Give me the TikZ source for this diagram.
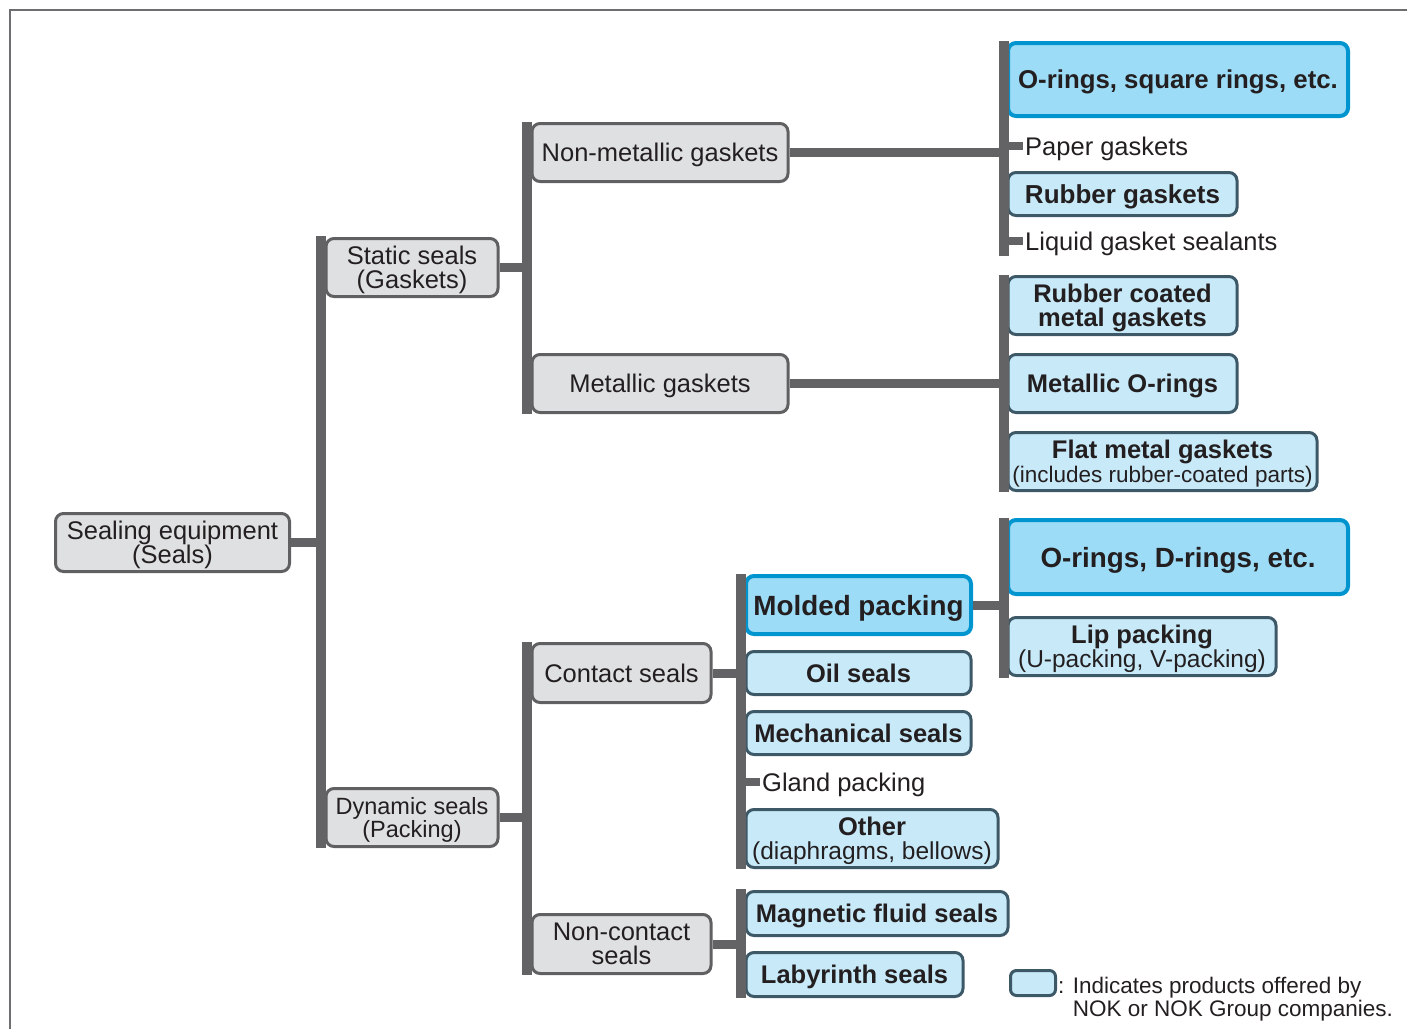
\documentclass[tikz,border=0pt]{standalone}
\usepackage{fontspec}
\setmainfont{Liberation Sans}

\definecolor{bargray}{HTML}{636365}
\definecolor{boxgray}{HTML}{DFE0E1}
\definecolor{edgegray}{HTML}{606062}
\definecolor{lightblue}{HTML}{C7E9F8}
\definecolor{edgeslate}{HTML}{3D5867}
\definecolor{hiblue}{HTML}{9DDCF6}
\definecolor{edgeblue}{HTML}{0095CF}
\definecolor{ink}{HTML}{231F20}
\definecolor{framegray}{HTML}{6E6E70}

\newcommand{\mainsize}{\fontsize{25.5}{24}\selectfont}
\newcommand{\subsize}{\fontsize{24.5}{24}\selectfont}

\tikzset{
    bar/.style={draw=bargray, line width=10pt},
    link/.style={draw=bargray, line width=9pt},
    tick/.style={draw=bargray, line width=8pt},
    gen/.style={draw=edgegray, fill=boxgray, line width=3pt, rounded corners=8pt,
        inner sep=0pt, align=center, text=ink, text depth=0pt, font=\mainsize},
    prod/.style={gen, draw=edgeslate, fill=lightblue, font=\mainsize\bfseries},
    nok/.style={prod, draw=edgeblue, fill=hiblue, line width=4pt,
        font=\fontsize{27.8}{24}\selectfont\bfseries},
    leaf/.style={inner sep=0pt, anchor=west, text=ink, text depth=0pt, font=\mainsize},
}

\begin{document}
\begin{tikzpicture}[x=1pt,y=-1pt]
        \useasboundingbox (0,0) rectangle (1407,1029);
        %% Frame
        \draw[framegray, line width=2pt] (10,1029) -- (10,10) -- (1407,10);

        %% Root and first level
        \node[gen, minimum width=234pt, minimum height=58pt] (root) at (172.5,542.5)
            {Sealing equipment\\(Seals)};
        \node[gen, anchor=west, minimum width=172pt, minimum height=58pt] (static) at (324.5,267.5)
            {Static seals\\(Gaskets)};
        \node[gen, anchor=west, minimum width=172pt, minimum height=58pt,
            font=\fontsize{23.5}{23}\selectfont] (dynamic) at (324.5,817.5)
            {Dynamic seals\\(Packing)};

        %% Gaskets
        \node[gen, anchor=west, minimum width=256pt, minimum height=58pt] (nonmetal) at (530.5,152.5)
            {Non-metallic gaskets};
        \node[gen, anchor=west, minimum width=256pt, minimum height=58pt] (metal) at (530.5,383.5)
            {Metallic gaskets};
        \node[nok, anchor=west, minimum width=340pt, minimum height=73pt,
            font=\fontsize{25.8}{24}\selectfont\bfseries] (oring) at (1006,79.5)
            {O-rings, square rings, etc.};
        \node[leaf] (paper) at (1025,146) {Paper gaskets};
        \node[prod, anchor=west, minimum width=229pt, minimum height=43pt,
            font=\fontsize{26}{24}\selectfont\bfseries] (rubber) at (1006.5,194)
            {Rubber gaskets};
        \node[leaf] (liquid) at (1025,241) {Liquid gasket sealants};
        \node[prod, anchor=west, minimum width=229pt, minimum height=58pt] (rubcoat) at (1006.5,305.5)
            {Rubber coated\\metal gaskets};
        \node[prod, anchor=west, minimum width=229pt, minimum height=58pt] (metoring) at (1006.5,383.5)
            {Metallic O-rings};
        \node[prod, anchor=west, minimum width=309pt, minimum height=58pt] (flat) at (1006.5,461.5)
            {Flat metal gaskets\\{\fontsize{22.5}{24}\selectfont\mdseries(includes rubber-coated parts)}};

        %% Packing
        \node[gen, anchor=west, minimum width=179pt, minimum height=59pt] (contact) at (530.5,673)
            {Contact seals};
        \node[gen, anchor=west, minimum width=179pt, minimum height=59pt] (noncontact) at (530.5,944)
            {Non-contact\\seals};
        \node[nok, anchor=west, minimum width=225pt, minimum height=58pt] (molded) at (744,605)
            {Molded packing};
        \node[prod, anchor=west, minimum width=225pt, minimum height=43pt] (oil) at (744.5,673)
            {Oil seals};
        \node[prod, anchor=west, minimum width=225pt, minimum height=43pt] (mech) at (744.5,733)
            {Mechanical seals};
        \node[leaf] (gland) at (762,782) {Gland packing};
        \node[prod, anchor=west, minimum width=252pt, minimum height=58pt] (other) at (744.5,838.5)
            {Other\\{\subsize\mdseries(diaphragms, bellows)}};
        \node[prod, anchor=west, minimum width=262pt, minimum height=44pt] (magnetic) at (744.5,913.5)
            {Magnetic fluid seals};
        \node[prod, anchor=west, minimum width=217pt, minimum height=44pt] (labyrinth) at (744.5,974.5)
            {Labyrinth seals};
        \node[nok, anchor=west, minimum width=340pt, minimum height=74pt] (dring) at (1006,557)
            {O-rings, D-rings, etc.};
        \node[prod, anchor=west, minimum width=268pt, minimum height=58pt] (lip) at (1006.5,646.5)
            {Lip packing\\{\subsize\mdseries(U-packing, V-packing)}};

        %% Bars
        \coordinate (A1) at (321,236);    \coordinate (A2) at (321,848);
        \coordinate (B1) at (527,122);    \coordinate (B2) at (527,414);
        \coordinate (C1) at (1003.5,41);  \coordinate (C2) at (1003.5,256);
        \coordinate (D1) at (1003.5,275); \coordinate (D2) at (1003.5,492);
        \coordinate (E1) at (527,642);    \coordinate (E2) at (527,975);
        \coordinate (F1) at (741,574);    \coordinate (F2) at (741,869);
        \coordinate (G1) at (741,889);    \coordinate (G2) at (741,998);
        \coordinate (H1) at (1003.5,518); \coordinate (H2) at (1003.5,678);
        \foreach \b in {A,B,C,D,E,F,G,H}
            \draw[bar] (\b1) -- (\b2);

        %% Links
        \draw[link] (root.east) -- (root.east -| A1);
        \draw[link] (static.east) -- (static.east -| B1);
        \draw[link] (dynamic.east) -- (dynamic.east -| E1);
        \draw[link] (nonmetal.east) -- (nonmetal.east -| C1);
        \draw[link] (metal.east) -- (metal.east -| D1);
        \draw[link] (contact.east) -- (contact.east -| F1);
        \draw[link] (noncontact.east) -- (noncontact.east -| G1);
        \draw[link] (molded.east) -- (molded.east -| H1);
        \draw[tick] (paper.west -| C1) -- ([xshift=-2pt]paper.west);
        \draw[tick] (liquid.west -| C1) -- ([xshift=-2pt]liquid.west);
        \draw[tick] (gland.west -| F1) -- ([xshift=-2pt]gland.west);

        %% Legend
        \node[prod, minimum width=45pt, minimum height=25pt, rounded corners=6pt] (key) at (1033,983) {};
        \node[leaf, align=left, font=\fontsize{22.5}{23}\selectfont] (keytext) at (1058,996.5)
            {: Indicates products offered by\\\phantom{: }NOK or NOK Group companies.};
\end{tikzpicture}
\end{document}
